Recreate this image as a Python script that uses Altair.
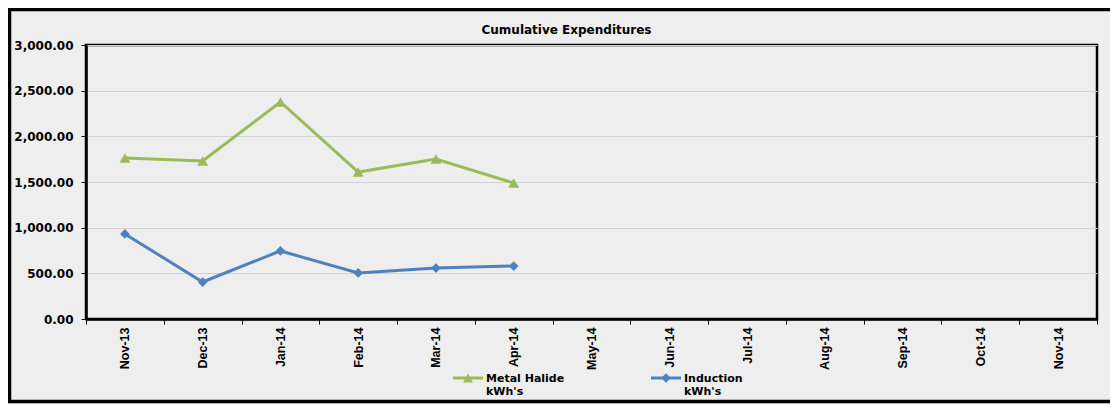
import altair as alt
import pandas as pd

months = ["Nov-13", "Dec-13", "Jan-14", "Feb-14", "Mar-14", "Apr-14", "May-14",
          "Jun-14", "Jul-14", "Aug-14", "Sep-14", "Oct-14", "Nov-14"]
data_months = ["Nov-13", "Dec-13", "Jan-14", "Feb-14", "Mar-14", "Apr-14"]
metal_halide = [1763, 1730, 2376, 1609, 1752, 1489]
induction = [931, 405, 745, 504, 558, 580]
series_names = ["Metal Halide kWh's", "Induction kWh's"]
series_colors = ["#9BBB59", "#4F81BD"]
y_ticks = [0, 500, 1000, 1500, 2000, 2500, 3000]

rows = []
for m, v in zip(data_months, metal_halide):
    rows.append({"month": m, "series": series_names[0], "value": v})
for m, v in zip(data_months, induction):
    rows.append({"month": m, "series": series_names[1], "value": v})
df = pd.DataFrame(rows)

W, H = 1011, 274

x_enc = alt.X(
    "month:N",
    scale=alt.Scale(type="band", domain=months, paddingInner=0, paddingOuter=0),
    bandPosition=0.5,
    axis=alt.Axis(
        title=None, labelAngle=-90, tickBand="extent", grid=False,
        labelFont="Liberation Sans", labelFontSize=12.5, labelFontWeight="bold",
        labelColor="black", tickColor="black", tickSize=5, tickWidth=1,
        domainColor="black", domainWidth=2.5, labelPadding=3,
    ),
)
y_enc = alt.Y(
    "value:Q",
    scale=alt.Scale(domain=[0, 3000], nice=False),
    axis=alt.Axis(
        title=None, values=y_ticks, format=",.2f",
        labelFont="DejaVu Sans", labelFontSize=12, labelFontWeight="bold",
        labelColor="black", tickColor="black", tickSize=5, tickWidth=1,
        domainColor="black", domainWidth=2.5, labelPadding=8,
        grid=True, gridColor="#d2d2d2", gridWidth=1,
    ),
)

color_scale = alt.Scale(domain=series_names, range=series_colors)
shapes = ["triangle-up", "diamond"]
sizes = [120, 95]

series_layers = []
for name, col, shp, sz in zip(series_names, series_colors, shapes, sizes):
    base = alt.Chart(df).transform_filter(alt.datum.series == name)
    series_layers.append(base.mark_line(strokeWidth=3, color=col).encode(x=x_enc, y=y_enc))
    series_layers.append(base.mark_point(shape=shp, filled=True, size=sz, opacity=1,
                                         color=col).encode(x=x_enc, y=y_enc))

legend_paths = [
    "M-1,-0.17H1V0.03H-1Z M-0.33,0.23L0,-0.37L0.33,0.23Z",
    "M-1,-0.17H1V0.03H-1Z M0,-0.39L0.32,-0.07L0,0.25L-0.32,-0.07Z",
]

label_expr = "[slice(datum.label, 0, -6), slice(datum.label, -5)]"

legend_layer = alt.Chart(df).transform_filter("false").mark_point(
    filled=True, opacity=1
).encode(
    x=x_enc, y=y_enc,
    color=alt.Color("series:N", scale=color_scale,
                    legend=alt.Legend(title=None, labelExpr=label_expr)),
    shape=alt.Shape("series:N", scale=alt.Scale(domain=series_names, range=legend_paths),
                    legend=alt.Legend(title=None, labelExpr=label_expr)),
)

frame = alt.Chart(alt.Data(values=[{"f": 1}])).mark_rect(
    filled=False, stroke="black", strokeWidth=3.5
).encode(
    x=alt.value(-76.5), x2=alt.value(W + 30),
    y=alt.value(-35.5), y2=alt.value(H + 82.5),
)

chart = alt.layer(frame, *series_layers, legend_layer).properties(
    width=W, height=H,
    title=alt.TitleParams(
        "Cumulative Expenditures", font="DejaVu Sans", fontSize=12,
        fontWeight="bold", color="black", anchor="middle", frame="group",
        dx=-25, offset=-29,
    ),
    autosize=alt.AutoSizeParams(type="none"),
    padding={"left": 78, "top": 37, "right": 13, "bottom": 85},
    background="#eeeeee",
).configure_view(
    stroke="black", strokeWidth=2.5, fill="#eeeeee"
).configure_legend(
    orient="none", legendX=367, legendY=319, direction="horizontal",
    columnPadding=86, symbolSize=900, symbolStrokeWidth=0,
    labelFont="DejaVu Sans", labelFontSize=11, labelFontWeight="bold",
    labelColor="black", labelOffset=3, labelLimit=300, padding=0,
    labelBaseline="middle",
)

chart.save("out.html", embed_options={"renderer": "svg", "actions": False})
